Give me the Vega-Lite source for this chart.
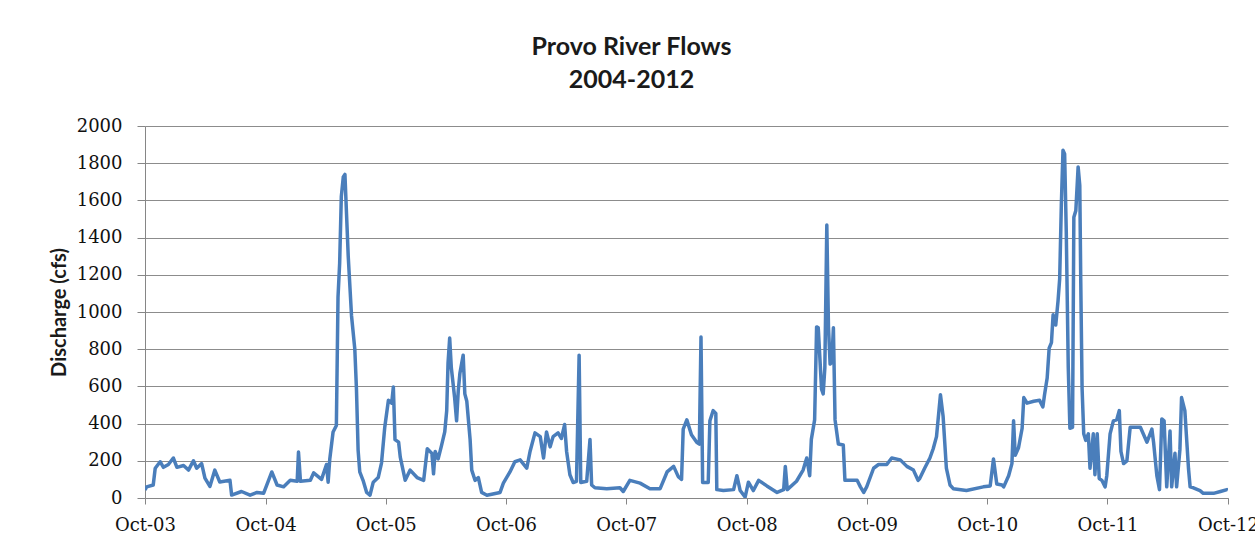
{
  "$schema": "https://vega.github.io/schema/vega-lite/v6.json",
  "autosize": {"type": "none"},
  "width": 1083,
  "height": 372,
  "padding": {"left": 145, "top": 126, "right": 27, "bottom": 56},
  "background": "#ffffff",
  "title": {
    "text": ["Provo River Flows", "2004-2012"],
    "anchor": "middle",
    "frame": "group",
    "dx": -55,
    "offset": 4,
    "baseline": "alphabetic",
    "lineHeight": 33,
    "font": "Lato",
    "fontSize": 25,
    "fontWeight": "bold",
    "color": "#1a1a1a"
  },
  "config": {
    "view": {"stroke": null},
    "axis": {
      "domainColor": "#868686",
      "tickColor": "#868686",
      "gridColor": "#8c8c8c",
      "gridWidth": 1,
      "labelFont": "DejaVu Serif",
      "labelFontSize": 18,
      "labelColor": "#111111"
    }
  },
  "data": {
    "values": [
      {"date": "2003-10-01", "cfs": 43},
      {"date": "2003-10-06", "cfs": 60},
      {"date": "2003-10-26", "cfs": 70},
      {"date": "2003-11-01", "cfs": 160},
      {"date": "2003-11-16", "cfs": 195},
      {"date": "2003-11-26", "cfs": 165},
      {"date": "2003-12-11", "cfs": 180},
      {"date": "2003-12-26", "cfs": 215},
      {"date": "2004-01-06", "cfs": 165},
      {"date": "2004-01-26", "cfs": 175},
      {"date": "2004-02-10", "cfs": 150},
      {"date": "2004-02-25", "cfs": 200},
      {"date": "2004-03-06", "cfs": 160},
      {"date": "2004-03-21", "cfs": 185},
      {"date": "2004-03-31", "cfs": 107},
      {"date": "2004-04-15", "cfs": 62},
      {"date": "2004-04-30", "cfs": 150},
      {"date": "2004-05-15", "cfs": 86},
      {"date": "2004-06-15", "cfs": 95},
      {"date": "2004-06-20", "cfs": 16},
      {"date": "2004-07-20", "cfs": 35},
      {"date": "2004-08-15", "cfs": 15},
      {"date": "2004-09-05", "cfs": 30},
      {"date": "2004-09-25", "cfs": 25},
      {"date": "2004-10-20", "cfs": 140},
      {"date": "2004-11-05", "cfs": 70},
      {"date": "2004-11-25", "cfs": 60},
      {"date": "2004-12-15", "cfs": 95},
      {"date": "2005-01-05", "cfs": 90},
      {"date": "2005-01-09", "cfs": 247},
      {"date": "2005-01-15", "cfs": 90},
      {"date": "2005-02-14", "cfs": 95},
      {"date": "2005-02-24", "cfs": 135},
      {"date": "2005-03-20", "cfs": 100},
      {"date": "2005-04-04", "cfs": 180},
      {"date": "2005-04-09", "cfs": 85},
      {"date": "2005-04-14", "cfs": 210},
      {"date": "2005-04-24", "cfs": 355},
      {"date": "2005-05-04", "cfs": 390},
      {"date": "2005-05-09", "cfs": 1080},
      {"date": "2005-05-14", "cfs": 1263},
      {"date": "2005-05-19", "cfs": 1620},
      {"date": "2005-05-25", "cfs": 1726},
      {"date": "2005-05-30", "cfs": 1740},
      {"date": "2005-06-04", "cfs": 1520},
      {"date": "2005-06-09", "cfs": 1300},
      {"date": "2005-06-19", "cfs": 980},
      {"date": "2005-06-29", "cfs": 800},
      {"date": "2005-07-04", "cfs": 585},
      {"date": "2005-07-09", "cfs": 258},
      {"date": "2005-07-14", "cfs": 140},
      {"date": "2005-07-24", "cfs": 95},
      {"date": "2005-08-04", "cfs": 30},
      {"date": "2005-08-14", "cfs": 15},
      {"date": "2005-08-24", "cfs": 85},
      {"date": "2005-09-08", "cfs": 110},
      {"date": "2005-09-18", "cfs": 188},
      {"date": "2005-09-28", "cfs": 382},
      {"date": "2005-10-09", "cfs": 525},
      {"date": "2005-10-19", "cfs": 510},
      {"date": "2005-10-24", "cfs": 597},
      {"date": "2005-10-29", "cfs": 314},
      {"date": "2005-11-09", "cfs": 300},
      {"date": "2005-11-14", "cfs": 220},
      {"date": "2005-11-29", "cfs": 95},
      {"date": "2005-12-14", "cfs": 150},
      {"date": "2006-01-04", "cfs": 110},
      {"date": "2006-01-24", "cfs": 95},
      {"date": "2006-02-04", "cfs": 265},
      {"date": "2006-02-18", "cfs": 240},
      {"date": "2006-02-23", "cfs": 130},
      {"date": "2006-02-28", "cfs": 250},
      {"date": "2006-03-09", "cfs": 210},
      {"date": "2006-03-19", "cfs": 280},
      {"date": "2006-03-29", "cfs": 355},
      {"date": "2006-04-04", "cfs": 470},
      {"date": "2006-04-08", "cfs": 725},
      {"date": "2006-04-13", "cfs": 860},
      {"date": "2006-04-18", "cfs": 700},
      {"date": "2006-04-28", "cfs": 540},
      {"date": "2006-05-04", "cfs": 415},
      {"date": "2006-05-09", "cfs": 575},
      {"date": "2006-05-14", "cfs": 670},
      {"date": "2006-05-24", "cfs": 768},
      {"date": "2006-05-29", "cfs": 560},
      {"date": "2006-06-04", "cfs": 520},
      {"date": "2006-06-14", "cfs": 315},
      {"date": "2006-06-19", "cfs": 150},
      {"date": "2006-06-29", "cfs": 95},
      {"date": "2006-07-09", "cfs": 110},
      {"date": "2006-07-19", "cfs": 30},
      {"date": "2006-08-04", "cfs": 15},
      {"date": "2006-09-13", "cfs": 30},
      {"date": "2006-09-23", "cfs": 80},
      {"date": "2006-10-13", "cfs": 140},
      {"date": "2006-10-28", "cfs": 195},
      {"date": "2006-11-13", "cfs": 205},
      {"date": "2006-12-03", "cfs": 160},
      {"date": "2006-12-13", "cfs": 250},
      {"date": "2006-12-28", "cfs": 350},
      {"date": "2007-01-13", "cfs": 330},
      {"date": "2007-01-23", "cfs": 215},
      {"date": "2007-02-01", "cfs": 355},
      {"date": "2007-02-12", "cfs": 275},
      {"date": "2007-02-21", "cfs": 330},
      {"date": "2007-03-08", "cfs": 350},
      {"date": "2007-03-18", "cfs": 320},
      {"date": "2007-03-28", "cfs": 395},
      {"date": "2007-04-03", "cfs": 250},
      {"date": "2007-04-13", "cfs": 125},
      {"date": "2007-04-23", "cfs": 83},
      {"date": "2007-05-03", "cfs": 90},
      {"date": "2007-05-11", "cfs": 768},
      {"date": "2007-05-16", "cfs": 83},
      {"date": "2007-06-03", "cfs": 90},
      {"date": "2007-06-13", "cfs": 315},
      {"date": "2007-06-18", "cfs": 70},
      {"date": "2007-06-28", "cfs": 55},
      {"date": "2007-08-03", "cfs": 50},
      {"date": "2007-09-12", "cfs": 55},
      {"date": "2007-09-22", "cfs": 35},
      {"date": "2007-10-12", "cfs": 95},
      {"date": "2007-11-12", "cfs": 80},
      {"date": "2007-12-12", "cfs": 50},
      {"date": "2008-01-12", "cfs": 50},
      {"date": "2008-02-02", "cfs": 140},
      {"date": "2008-02-22", "cfs": 170},
      {"date": "2008-03-07", "cfs": 115},
      {"date": "2008-03-17", "cfs": 100},
      {"date": "2008-03-22", "cfs": 370},
      {"date": "2008-04-02", "cfs": 420},
      {"date": "2008-04-16", "cfs": 340},
      {"date": "2008-05-02", "cfs": 300},
      {"date": "2008-05-10", "cfs": 290},
      {"date": "2008-05-15", "cfs": 865},
      {"date": "2008-05-20", "cfs": 83},
      {"date": "2008-06-06", "cfs": 83},
      {"date": "2008-06-11", "cfs": 415},
      {"date": "2008-06-21", "cfs": 470},
      {"date": "2008-06-29", "cfs": 455},
      {"date": "2008-07-02", "cfs": 45},
      {"date": "2008-07-22", "cfs": 40},
      {"date": "2008-08-22", "cfs": 45},
      {"date": "2008-09-01", "cfs": 120},
      {"date": "2008-09-11", "cfs": 40},
      {"date": "2008-09-26", "cfs": 5},
      {"date": "2008-10-06", "cfs": 85},
      {"date": "2008-10-21", "cfs": 40},
      {"date": "2008-11-06", "cfs": 95},
      {"date": "2008-12-01", "cfs": 65},
      {"date": "2009-01-01", "cfs": 30},
      {"date": "2009-01-21", "cfs": 45},
      {"date": "2009-01-26", "cfs": 170},
      {"date": "2009-02-01", "cfs": 45},
      {"date": "2009-03-01", "cfs": 90},
      {"date": "2009-03-21", "cfs": 150},
      {"date": "2009-04-01", "cfs": 215},
      {"date": "2009-04-10", "cfs": 120},
      {"date": "2009-04-15", "cfs": 315},
      {"date": "2009-04-25", "cfs": 420},
      {"date": "2009-05-01", "cfs": 920},
      {"date": "2009-05-06", "cfs": 915},
      {"date": "2009-05-16", "cfs": 585},
      {"date": "2009-05-21", "cfs": 560},
      {"date": "2009-05-26", "cfs": 700},
      {"date": "2009-06-01", "cfs": 1468},
      {"date": "2009-06-06", "cfs": 920},
      {"date": "2009-06-11", "cfs": 720},
      {"date": "2009-06-16", "cfs": 730},
      {"date": "2009-06-21", "cfs": 915},
      {"date": "2009-06-26", "cfs": 420},
      {"date": "2009-07-06", "cfs": 290},
      {"date": "2009-07-21", "cfs": 285},
      {"date": "2009-07-26", "cfs": 95},
      {"date": "2009-09-01", "cfs": 95},
      {"date": "2009-09-11", "cfs": 60},
      {"date": "2009-09-21", "cfs": 30},
      {"date": "2009-09-30", "cfs": 60},
      {"date": "2009-10-21", "cfs": 160},
      {"date": "2009-11-05", "cfs": 180},
      {"date": "2009-11-30", "cfs": 180},
      {"date": "2009-12-15", "cfs": 215},
      {"date": "2010-01-10", "cfs": 205},
      {"date": "2010-01-30", "cfs": 170},
      {"date": "2010-02-19", "cfs": 150},
      {"date": "2010-03-05", "cfs": 95},
      {"date": "2010-03-10", "cfs": 105},
      {"date": "2010-03-25", "cfs": 160},
      {"date": "2010-04-10", "cfs": 215},
      {"date": "2010-04-20", "cfs": 265},
      {"date": "2010-04-30", "cfs": 330},
      {"date": "2010-05-12", "cfs": 555},
      {"date": "2010-05-20", "cfs": 440},
      {"date": "2010-05-30", "cfs": 160},
      {"date": "2010-06-10", "cfs": 70},
      {"date": "2010-06-20", "cfs": 50},
      {"date": "2010-07-30", "cfs": 40},
      {"date": "2010-09-19", "cfs": 60},
      {"date": "2010-10-10", "cfs": 65},
      {"date": "2010-10-20", "cfs": 210},
      {"date": "2010-10-30", "cfs": 75},
      {"date": "2010-11-15", "cfs": 70},
      {"date": "2010-11-20", "cfs": 60},
      {"date": "2010-12-05", "cfs": 120},
      {"date": "2010-12-15", "cfs": 185},
      {"date": "2010-12-20", "cfs": 415},
      {"date": "2010-12-25", "cfs": 230},
      {"date": "2011-01-04", "cfs": 270},
      {"date": "2011-01-15", "cfs": 375},
      {"date": "2011-01-20", "cfs": 540},
      {"date": "2011-01-30", "cfs": 510},
      {"date": "2011-02-19", "cfs": 520},
      {"date": "2011-03-09", "cfs": 525},
      {"date": "2011-03-19", "cfs": 490},
      {"date": "2011-03-24", "cfs": 555},
      {"date": "2011-04-01", "cfs": 645},
      {"date": "2011-04-07", "cfs": 805},
      {"date": "2011-04-14", "cfs": 835},
      {"date": "2011-04-19", "cfs": 985},
      {"date": "2011-04-27", "cfs": 930},
      {"date": "2011-05-04", "cfs": 1060},
      {"date": "2011-05-09", "cfs": 1180},
      {"date": "2011-05-14", "cfs": 1575},
      {"date": "2011-05-19", "cfs": 1870},
      {"date": "2011-05-24", "cfs": 1850},
      {"date": "2011-05-29", "cfs": 1430},
      {"date": "2011-06-04", "cfs": 705},
      {"date": "2011-06-09", "cfs": 375},
      {"date": "2011-06-17", "cfs": 380},
      {"date": "2011-06-21", "cfs": 1510},
      {"date": "2011-06-27", "cfs": 1545},
      {"date": "2011-07-04", "cfs": 1780},
      {"date": "2011-07-09", "cfs": 1680},
      {"date": "2011-07-12", "cfs": 1160},
      {"date": "2011-07-16", "cfs": 590},
      {"date": "2011-07-21", "cfs": 345},
      {"date": "2011-07-27", "cfs": 310},
      {"date": "2011-08-04", "cfs": 345},
      {"date": "2011-08-09", "cfs": 160},
      {"date": "2011-08-19", "cfs": 345},
      {"date": "2011-08-24", "cfs": 125},
      {"date": "2011-08-31", "cfs": 345},
      {"date": "2011-09-06", "cfs": 105},
      {"date": "2011-09-14", "cfs": 95},
      {"date": "2011-09-24", "cfs": 60},
      {"date": "2011-09-29", "cfs": 120},
      {"date": "2011-10-09", "cfs": 345},
      {"date": "2011-10-19", "cfs": 415},
      {"date": "2011-10-29", "cfs": 420},
      {"date": "2011-11-06", "cfs": 470},
      {"date": "2011-11-11", "cfs": 250},
      {"date": "2011-11-19", "cfs": 185},
      {"date": "2011-11-29", "cfs": 200},
      {"date": "2011-12-09", "cfs": 380},
      {"date": "2012-01-09", "cfs": 380},
      {"date": "2012-01-19", "cfs": 340},
      {"date": "2012-01-29", "cfs": 300},
      {"date": "2012-02-13", "cfs": 370},
      {"date": "2012-02-18", "cfs": 300},
      {"date": "2012-02-28", "cfs": 120},
      {"date": "2012-03-07", "cfs": 45},
      {"date": "2012-03-14", "cfs": 425},
      {"date": "2012-03-21", "cfs": 415},
      {"date": "2012-03-29", "cfs": 60},
      {"date": "2012-04-08", "cfs": 360},
      {"date": "2012-04-13", "cfs": 60},
      {"date": "2012-04-23", "cfs": 240},
      {"date": "2012-04-28", "cfs": 60},
      {"date": "2012-05-08", "cfs": 260},
      {"date": "2012-05-13", "cfs": 540},
      {"date": "2012-05-23", "cfs": 470},
      {"date": "2012-06-03", "cfs": 160},
      {"date": "2012-06-08", "cfs": 60},
      {"date": "2012-06-18", "cfs": 55},
      {"date": "2012-07-08", "cfs": 40},
      {"date": "2012-07-18", "cfs": 25},
      {"date": "2012-08-18", "cfs": 25},
      {"date": "2012-09-08", "cfs": 35},
      {"date": "2012-09-28", "cfs": 45},
      {"date": "2012-09-30", "cfs": 40}
    ]
  },
  "mark": {"type": "line", "color": "#4a7ebb", "strokeWidth": 3.5, "strokeJoin": "round", "clip": true},
  "encoding": {
    "x": {
      "field": "date",
      "type": "temporal",
      "scale": {
        "type": "utc",
        "domain": [
          {"year": 2003, "month": 10, "date": 1, "utc": true},
          {"year": 2012, "month": 10, "date": 1, "utc": true}
        ]
      },
      "axis": {
        "title": null,
        "grid": false,
        "values": [
          {"year": 2003, "month": 10, "date": 1, "utc": true},
          {"year": 2004, "month": 10, "date": 1, "utc": true},
          {"year": 2005, "month": 10, "date": 1, "utc": true},
          {"year": 2006, "month": 10, "date": 1, "utc": true},
          {"year": 2007, "month": 10, "date": 1, "utc": true},
          {"year": 2008, "month": 10, "date": 1, "utc": true},
          {"year": 2009, "month": 10, "date": 1, "utc": true},
          {"year": 2010, "month": 10, "date": 1, "utc": true},
          {"year": 2011, "month": 10, "date": 1, "utc": true},
          {"year": 2012, "month": 10, "date": 1, "utc": true}
        ],
        "labelExpr": "utcFormat(datum.value, '%b-%y')",
        "tickSize": 6,
        "labelPadding": 12,
        "labelOverlap": false,
        "labelFlush": false
      }
    },
    "y": {
      "field": "cfs",
      "type": "quantitative",
      "scale": {"domain": [0, 2000], "nice": false},
      "axis": {
        "title": "Discharge (cfs)",
        "titleFont": "Lato",
        "titleFontSize": 20,
        "titleFontWeight": "bold",
        "titleColor": "#1a1a1a",
        "titleAngle": -90,
        "titleX": -86,
        "titleY": 186,
        "titleAlign": "center",
        "titleBaseline": "middle",
        "values": [0, 200, 400, 600, 800, 1000, 1200, 1400, 1600, 1800, 2000],
        "format": "d",
        "tickSize": 8,
        "labelPadding": 15,
        "grid": true
      }
    }
  }
}
